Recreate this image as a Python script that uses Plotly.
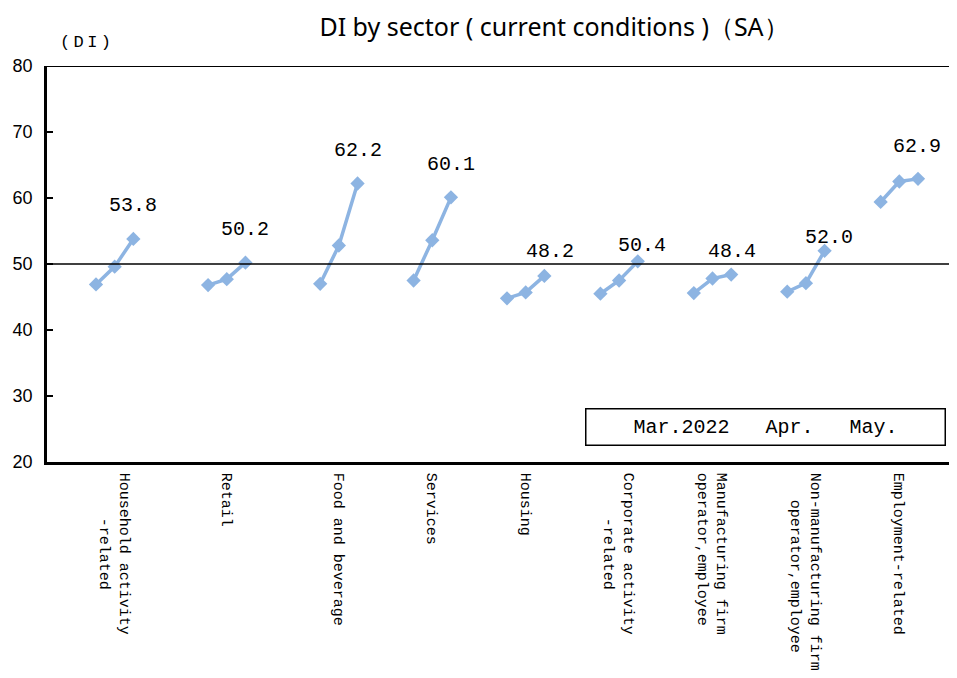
import plotly.graph_objects as go

# ---------------- data ----------------
sectors = [
    "Household activity<br>" + "\u00a0" * 5 + "-related",
    "Retail",
    "Food and beverage",
    "Services",
    "Housing",
    "Corporate activity<br>" + "\u00a0" * 5 + "-related",
    "Manufacturing firm<br>operator,employee",
    "Non-manufacturing firm<br>" + "\u00a0" * 3 + "operator,employee",
    "Employment-related",
]
months = ["Mar.2022", "Apr.", "May."]
di_mar = [46.9, 46.8, 47.0, 47.5, 44.8, 45.5, 45.6, 45.8, 59.4]
di_apr = [49.6, 47.7, 52.8, 53.6, 45.7, 47.5, 47.8, 47.1, 62.5]
di_may = [53.8, 50.2, 62.2, 60.1, 48.2, 50.4, 48.4, 52.0, 62.9]

# ---------------- layout constants ----------------
# category slots between consecutive sector groups (Excel-style spacing)
group_gaps = [6, 6, 5, 5, 5, 5, 5, 5]
label_dy = [33, 33, 33, 33, 24, 16, 23, 13, 32]   # px above last point
label_dx = [0, 0, 0, 0, 6, 4, 1, 4, -1]

starts = [0]
for g in group_gaps:
    starts.append(starts[-1] + g)

xs, ys = [], []
for i, s in enumerate(starts):
    xs += [s, s + 1, s + 2, None]
    ys += [di_mar[i], di_apr[i], di_may[i], None]

BLUE = "#8DB4E2"
MONO = "Liberation Mono"
SANS = "Liberation Sans, Arial"

# page offset (body margin) and plot-area geometry in page pixels
OFF = 8
PL, PR, PT, PB = 47, 957, 66, 462
FW, FH = 957 - OFF, 678 - OFF
PW, PH = PR - PL, PB - PT


def px(xpage):
    return (xpage - PL) / PW


def py(ypage):
    return (PB - ypage) / PH


fig = go.Figure()
fig.add_trace(go.Scatter(
    x=xs, y=ys, mode="lines+markers",
    line=dict(color=BLUE, width=3.5),
    marker=dict(symbol="diamond", size=11, color=BLUE),
    connectgaps=False, showlegend=False, hoverinfo="skip",
))

annotations = []
for i, s in enumerate(starts):
    annotations.append(dict(
        x=s + 2, y=di_may[i], xref="x", yref="y",
        text=f"{di_may[i]:.1f}", showarrow=False,
        xshift=label_dx[i], yshift=label_dy[i],
        font=dict(family=MONO, size=20, color="black"),
    ))

# "(DI)" unit label
annotations.append(dict(
    x=px(85), y=py(43), xref="paper", yref="paper",
    text="(\u2009D\u2009I\u2009)", showarrow=False, xanchor="center", yanchor="middle",
    font=dict(family=MONO, size=17, color="black"),
))

# month box
annotations.append(dict(
    x=px(765), y=py(426.5), xref="paper", yref="paper",
    text="   ".join(months), showarrow=False,
    xanchor="center", yanchor="middle",
    width=358, height=35, bgcolor="white",
    bordercolor="black", borderwidth=1.5, borderpad=0,
    font=dict(family=MONO, size=20, color="black"),
))

shapes = [
    dict(type="line", xref="paper", yref="y", x0=0, x1=1, y0=80, y1=80,
         line=dict(color="black", width=2)),
    dict(type="line", xref="paper", yref="y", x0=0, x1=1, y0=50, y1=50,
         line=dict(color="black", width=1.5)),
]

step = 822 / 44
x_lo = -(96 - PL) / step
x_hi = (PR - 96) / step

fig.update_layout(
    width=FW, height=FH,
    margin=dict(l=PL - OFF, r=0, t=PT - OFF, b=FH - (PB - OFF)),
    paper_bgcolor="white", plot_bgcolor="white",
    title=dict(
        text="DI by sector ( current conditions )（SA）",
        x=(554 - OFF) / FW, xanchor="center", xref="container",
        y=1 - (27 - OFF) / FH, yanchor="middle", yref="container",
        font=dict(family="Noto Sans", size=25, color="black"),
    ),
    xaxis=dict(
        range=[x_lo, x_hi],
        tickmode="array",
        tickvals=[s + 1 for s in starts],
        ticktext=sectors,
        tickangle=90,
        ticks="",
        showgrid=False, zeroline=False,
        showline=True, linecolor="black", linewidth=2.5,
        tickfont=dict(family=MONO, size=15, color="black"),
        ticklabelstandoff=5,
    ),
    yaxis=dict(
        range=[20, 80], dtick=10, tick0=20,
        ticks="inside", ticklen=6, tickwidth=1.5, tickcolor="black",
        showgrid=False, zeroline=False,
        showline=True, linecolor="black", linewidth=2.5,
        tickfont=dict(family=SANS, size=18, color="black"),
        ticklabelstandoff=8,
    ),
    annotations=annotations,
    shapes=shapes,
)

fig.write_html("out.html")
